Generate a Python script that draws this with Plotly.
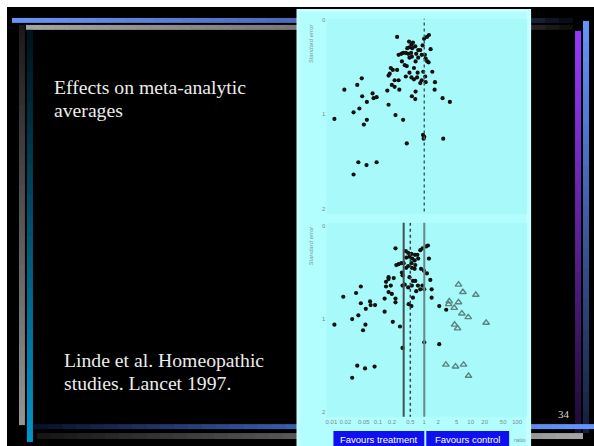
import plotly.graph_objects as go

# ---------------- data ----------------
# Top funnel plot: odds ratio vs standard error (all trials)
top_or = [0.26, 0.47, 0.57, 0.53, 0.64, 0.48, 0.43, 0.55, 0.74, 0.82, 0.40, 0.35, 0.32, 0.28,
          0.45, 0.52, 0.67, 0.92, 0.99, 1.14, 1.26, 1.37, 1.03, 0.88, 1.07, 1.16, 1.24, 0.33,
          0.38, 0.42, 0.54, 0.48, 0.74, 0.65, 0.19, 0.21, 0.18, 0.17, 0.26, 0.48, 0.60, 0.72,
          0.95, 1.49, 0.40, 0.53, 0.60, 0.70, 1.05, 0.88, 1.07, 0.82, 1.70, 0.23, 0.28, 0.20,
          0.23, 0.29, 1.67, 0.54, 0.64, 0.65, 0.16, 0.17, 0.045, 0.036, 0.019, 0.046, 0.058,
          0.077, 0.081, 0.094, 2.48, 3.56, 0.040, 0.030, 0.24, 0.35, 0.058, 0.050, 0.0116,
          0.94, 1.00, 0.97, 2.56, 0.42, 0.038, 0.057, 0.094, 0.030]
top_se = [0.18, 0.23, 0.24, 0.26, 0.28, 0.29, 0.30, 0.30, 0.32, 0.32, 0.35, 0.35, 0.36, 0.37,
          0.36, 0.35, 0.36, 0.27, 0.20, 0.18, 0.16, 0.31, 0.37, 0.37, 0.41, 0.44, 0.45, 0.44,
          0.48, 0.49, 0.39, 0.40, 0.40, 0.44, 0.51, 0.53, 0.57, 0.59, 0.53, 0.56, 0.51, 0.56,
          0.55, 0.55, 0.60, 0.61, 0.63, 0.61, 0.60, 0.64, 0.66, 0.67, 0.66, 0.64, 0.64, 0.69,
          0.71, 0.74, 0.74, 0.81, 0.84, 0.76, 0.75, 0.90, 0.62, 0.69, 0.74, 0.81, 0.87,
          0.78, 0.83, 0.82, 0.83, 0.87, 0.94, 0.98, 1.01, 1.06, 1.06, 1.11, 1.05,
          1.22, 1.24, 1.26, 1.26, 1.31, 1.51, 1.54, 1.51, 1.64]

# Bottom funnel plot: observed trials (dots)
bot_or = [0.24, 0.40, 0.45, 0.53, 0.63, 0.48, 0.41, 0.55, 0.62, 0.74, 0.82, 0.92, 1.10, 1.20,
          1.26, 0.71, 0.36, 0.32, 0.28, 0.25, 0.45, 0.53, 0.64, 0.85, 0.98, 1.14, 1.35, 0.62,
          0.54, 0.41, 0.33, 0.34, 0.48, 0.57, 0.64, 0.73, 0.91, 1.00, 0.82, 0.67, 0.54, 0.45,
          0.38, 0.34, 0.17, 0.17, 0.15, 0.15, 0.22, 0.19, 0.17, 0.20, 0.24, 0.14, 0.14, 0.24,
          0.21, 0.30, 0.34, 1.44, 1.44, 0.043, 0.034, 0.018, 0.043, 0.055, 0.068, 0.070, 0.087,
          0.038, 0.028, 0.054, 0.048, 0.0116, 1.00, 2.10, 0.036, 0.053, 0.085, 0.028, 0.46,
          0.53, 0.57, 2.10, 2.97]
bot_se = [0.24, 0.27, 0.29, 0.30, 0.31, 0.33, 0.34, 0.35, 0.37, 0.35, 0.26, 0.24, 0.22, 0.21,
          0.35, 0.31, 0.40, 0.40, 0.41, 0.42, 0.43, 0.40, 0.42, 0.46, 0.48, 0.51, 0.58, 0.46,
          0.45, 0.45, 0.50, 0.53, 0.55, 0.59, 0.59, 0.64, 0.64, 0.68, 0.68, 0.70, 0.64, 0.66,
          0.63, 0.64, 0.55, 0.57, 0.60, 0.65, 0.56, 0.64, 0.71, 0.73, 0.78, 0.78, 0.92, 0.82,
          1.03, 1.08, 1.31, 0.68, 0.77, 0.65, 0.72, 0.76, 0.83, 0.89, 0.81, 0.85, 0.85,
          0.96, 1.00, 1.06, 1.12, 1.06, 1.25, 1.27, 1.50, 1.53, 1.51, 1.63, 0.84,
          0.86, 0.77, 0.86, 0.90]

# Bottom funnel plot: imputed "missing" trials (triangles)
fill_or = [5.47, 6.79, 12.9, 3.45, 3.34, 5.47, 4.42, 6.46, 8.84, 4.49, 5.21, 21.5, 2.92, 4.72, 7.01, 8.98]
fill_se = [0.63, 0.71, 0.74, 0.81, 0.84, 0.82, 0.88, 0.94, 0.98, 1.06, 1.10, 1.04, 1.49, 1.51, 1.49, 1.61]

# Reference lines (odds ratios)
top_ref = 1.0
bot_pooled = 0.36
bot_adjusted = 0.50
bot_null = 1.0

x_ticks = [0.01, 0.02, 0.05, 0.1, 0.2, 0.5, 1, 2, 5, 10, 20, 50, 100]
x_tick_text = ["0.01", "0.02", "0.05", "0.1", "0.2", "0.5", "1", "2", "5", "10", "20", "50", "100"]
y_ticks = [0, 1, 2]

# ---------------- helpers for slide decoration ----------------
W, H = 594, 446


def px(x):
    return x / W


def py(y):
    return 1 - y / H


shapes = []


def rect(x0, y0, x1, y1, color):
    shapes.append(dict(type="rect", xref="paper", yref="paper", x0=px(x0), x1=px(x1),
                       y0=py(y1), y1=py(y0), fillcolor=color, line=dict(width=0), layer="below"))


def interp(stops, t):
    for (t0, c0), (t1, c1) in zip(stops[:-1], stops[1:]):
        if t <= t1:
            f = 0 if t1 == t0 else (t - t0) / (t1 - t0)
            return "rgb(%d,%d,%d)" % tuple(round(a + (b - a) * f) for a, b in zip(c0, c1))
    return "rgb(%d,%d,%d)" % stops[-1][1]


def grad(x0, y0, x1, y1, stops, vertical, n=40):
    for i in range(n):
        t = (i + 0.5) / n
        c = interp(stops, t)
        if vertical:
            a = y0 + (y1 - y0) * i / n
            b = y0 + (y1 - y0) * (i + 1) / n + 0.8
            rect(x0, a, x1, min(b, y1), c)
        else:
            a = x0 + (x1 - x0) * i / n
            b = x0 + (x1 - x0) * (i + 1) / n + 0.8
            rect(a, y0, min(b, x1), y1, c)


# slide background
rect(6, 5, 594, 446, "#000000")
# top bars
grad(11, 16, 573, 21, [(0, (105, 150, 245)), (0.51, (75, 105, 185)), (0.93, (25, 35, 60)), (1, (5, 8, 15))], False)
grad(25, 23, 573, 28, [(0, (165, 165, 165)), (0.49, (120, 120, 120)), (0.92, (40, 40, 40)), (1, (12, 12, 12))], False)
# left vertical bars
grad(18, 23, 24, 425, [(0, (25, 25, 25)), (1, (150, 150, 150))], True)
grad(26, 28, 32, 442, [(0, (0, 18, 25)), (1, (0, 150, 205))], True)
# right vertical bars
grad(575, 29, 581, 433, [(0, (155, 55, 255)), (1, (30, 10, 50))], True)
grad(583, 19, 589, 433, [(0, (100, 150, 255)), (1, (20, 30, 60))], True)
# bottom bars
grad(33, 424, 594, 429, [(0, (10, 15, 40)), (0.5, (60, 100, 185)), (1, (100, 150, 255))], False)
grad(36, 433, 583, 439, [(0, (20, 20, 20)), (1, (165, 165, 165))], False)

# figure panel
rect(296, 7, 531, 446, "#c6ffff")
rect(299, 10, 526, 446, "#b2fefe")
rect(326, 16.7, 527, 213, "#a8f9f9")
rect(326, 221.7, 527, 416.7, "#a8f9f9")
# "Favours" boxes
rect(333, 431, 424, 446, "#1010ee")
rect(426, 431, 509, 446, "#1010ee")

# ---------------- figure ----------------
log_range = [-2.107, 2.215]
fig = go.Figure()

dot = dict(color="#111111", size=4.2)
fig.add_trace(go.Scatter(x=top_or, y=top_se, mode="markers", marker=dot, xaxis="x", yaxis="y"))
fig.add_trace(go.Scatter(x=bot_or, y=bot_se, mode="markers", marker=dot, xaxis="x2", yaxis="y2"))
fig.add_trace(go.Scatter(x=fill_or, y=fill_se, mode="markers",
                         marker=dict(symbol="triangle-up-open", color="#5b8585", size=5.8,
                                     line=dict(width=1.4, color="#5b8585")),
                         xaxis="x2", yaxis="y2"))

span = [-0.1, 2.2]
fig.add_trace(go.Scatter(x=[top_ref, top_ref], y=span, mode="lines",
                         line=dict(color="#3e6262", width=1.5, dash="dot"), xaxis="x", yaxis="y"))
fig.add_trace(go.Scatter(x=[bot_pooled, bot_pooled], y=span, mode="lines",
                         line=dict(color="#3e5252", width=2), xaxis="x2", yaxis="y2"))
fig.add_trace(go.Scatter(x=[bot_adjusted, bot_adjusted], y=span, mode="lines",
                         line=dict(color="#2e4a4a", width=1.5, dash="dot"), xaxis="x2", yaxis="y2"))
fig.add_trace(go.Scatter(x=[bot_null, bot_null], y=span, mode="lines",
                         line=dict(color="#668a8a", width=2), xaxis="x2", yaxis="y2"))

tickfont = dict(family="Arial", size=6, color="#7c8c8c")
common_x = dict(type="log", range=log_range, domain=[326 / W, 527 / W], showgrid=False,
                zeroline=False, showline=False, ticks="", tickangle=0)
common_y = dict(showgrid=False, zeroline=False, showline=False, ticks="", tickvals=y_ticks,
                ticktext=[str(v) for v in y_ticks], tickfont=tickfont)

fig.update_layout(
    width=W, height=H, margin=dict(l=0, r=0, t=0, b=0),
    paper_bgcolor="#ffffff", plot_bgcolor="rgba(0,0,0,0)", showlegend=False, hovermode=False,
    xaxis=dict(common_x, anchor="y", showticklabels=False),
    yaxis=dict(common_y, anchor="x", range=[2.06, -0.014], domain=[1 - 213 / H, 1 - 16.7 / H]),
    xaxis2=dict(common_x, anchor="y2", tickvals=x_ticks, ticktext=x_tick_text, tickfont=tickfont),
    yaxis2=dict(common_y, anchor="x2", range=[2.05, -0.035], domain=[1 - 416.7 / H, 1 - 221.7 / H]),
    shapes=shapes,
)

serif = "Liberation Serif, Times New Roman, serif"
ann = []


def text(x, y, s, size, color, family=serif, xanchor="left", angle=0, italic=False):
    ann.append(dict(x=px(x), y=py(y), xref="paper", yref="paper", text=s, showarrow=False,
                    xanchor=xanchor, yanchor="middle", textangle=angle,
                    font=dict(family=family, size=size, color=color,
                              style="italic" if italic else "normal")))


text(51, 85, "Effects on meta-analytic", 19.7, "#ececec")
text(51, 108, "averages", 19.7, "#ececec")
text(61, 360, "Linde et al. Homeopathic", 19.7, "#ececec")
text(61, 383, "studies. Lancet 1997.", 19.7, "#ececec")
text(556, 414, "34", 11, "#d8d8d8")
text(310, 41, "Standard error", 6, "#7e9898", family="Arial", xanchor="center", angle=-90, italic=True)
text(310, 244, "Standard error", 6, "#7e9898", family="Arial", xanchor="center", angle=-90, italic=True)
text(378.5, 439, "Favours treatment", 9.5, "#ffffff", family="Arial", xanchor="center")
text(467.5, 439, "Favours control", 9.5, "#ffffff", family="Arial", xanchor="center")
text(512, 440, "ratio", 6, "#7c8c8c", family="Arial")
fig.update_layout(annotations=ann)

fig.write_html("out.html", config={"displayModeBar": False, "staticPlot": True},
               post_script="document.body.style.margin='0';")
